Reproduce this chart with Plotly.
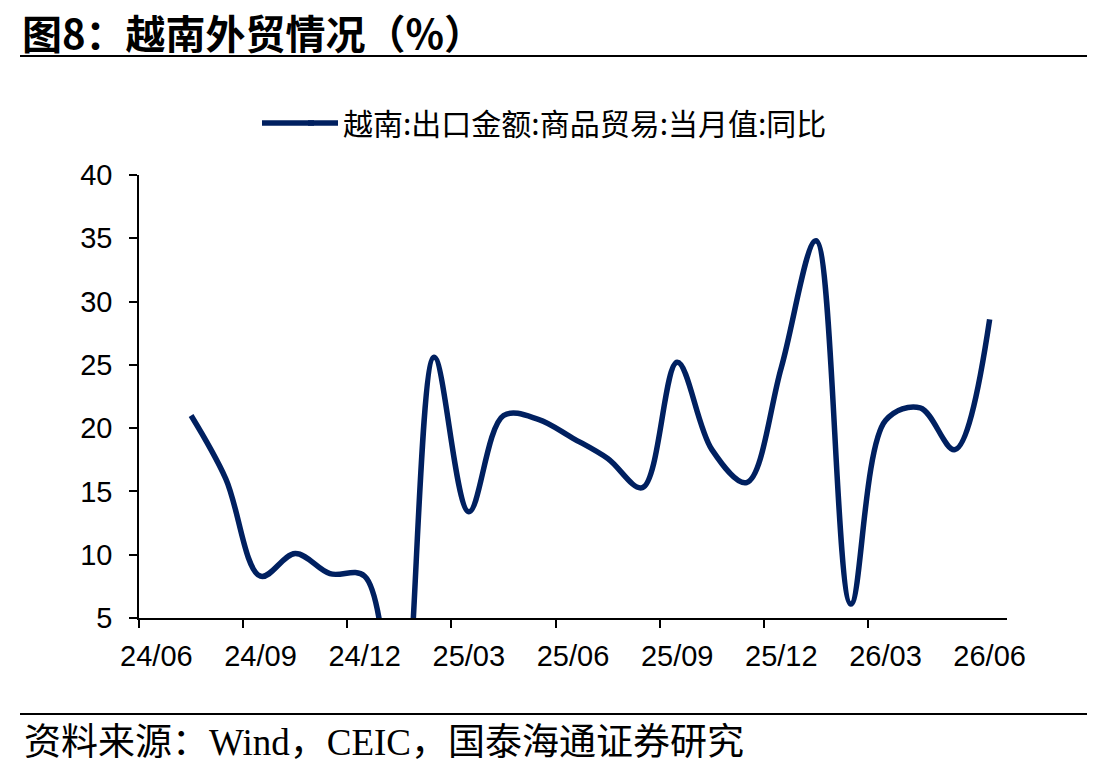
import plotly.graph_objects as go

# ---- data ----
axis_months = ["24/06", "24/07", "24/08", "24/09", "24/10", "24/11", "24/12",
               "25/01", "25/02", "25/03", "25/04", "25/05", "25/06",
               "25/07", "25/08", "25/09", "25/10", "25/11", "25/12",
               "26/01", "26/02", "26/03", "26/04", "26/05", "26/06"]
months = ["24/07", "24/08", "24/09", "24/10", "24/11", "24/12",
          "25/01", "25/02", "25/03", "25/04", "25/05", "25/06",
          "25/07", "25/08", "25/09", "25/10", "25/11", "25/12",
          "26/01", "26/02", "26/03", "26/04", "26/05", "26/06"]
export_yoy = [21.0, 16.0, 8.3, 10.1, 8.5, 8.3,
              -6.0, 25.6, 13.4, 21.0, 20.7, 19.2,
              17.6, 15.3, 25.2, 18.3, 15.7, 24.8,
              34.8, 6.1, 20.6, 21.6, 18.3, 28.6]
tick_labels = ["24/06", "24/09", "24/12", "25/03", "25/06",
               "25/09", "25/12", "26/03", "26/06"]
y_ticks = [5, 10, 15, 20, 25, 30, 35, 40]
series_name = "越南:出口金额:商品贸易:当月值:同比"
title_text = "图8：越南外贸情况（%）"
source_text = "资料来源：Wind，CEIC，国泰海通证券研究"

NAVY = "#002060"
W, H = 1107, 774
L, R, T, B = 139, 100, 175, 156
PW, PH = W - L - R, H - T - B


def px_x(px):
    return (px - L) / PW


def px_y(py):
    return (H - B - py) / PH


x_idx = [axis_months.index(m) for m in months]
tick_idx = [axis_months.index(t) for t in tick_labels]
boundaries = [i - 0.5 for i in tick_idx if i < len(axis_months) - 1]

fig = go.Figure()
fig.add_trace(go.Scatter(
    x=x_idx, y=export_yoy, mode="lines", name=series_name,
    line=dict(color=NAVY, width=5.5, shape="spline", smoothing=1.0),
))

fig.update_layout(
    width=W, height=H, autosize=False,
    margin=dict(l=L, r=R, t=T, b=B, pad=0),
    paper_bgcolor="white", plot_bgcolor="white",
    font=dict(family="Liberation Sans, Arial, Noto Sans CJK SC", color="black"),
    showlegend=True,
    legend=dict(
        orientation="h", x=px_x(303), xanchor="left",
        y=px_y(123), yanchor="middle",
        font=dict(family="Noto Sans CJK SC", size=30, color="black"),
        bgcolor="rgba(0,0,0,0)", borderwidth=0,
    ),
)

fig.update_xaxes(
    range=[-0.5, len(axis_months) - 0.5],
    tickmode="array", tickvals=tick_idx, ticktext=tick_labels,
    ticks="", showgrid=False, zeroline=False,
    showline=True, linecolor="black", linewidth=1.5,
    tickfont=dict(family="Liberation Sans, Arial", size=29, color="black"),
    ticklabelstandoff=11,
    minor=dict(tickmode="array", tickvals=boundaries, ticks="outside",
               ticklen=8, tickwidth=1.5, tickcolor="black", showgrid=False),
)
fig.update_yaxes(
    range=[5, 40], tickmode="array", tickvals=y_ticks,
    ticks="outside", ticklen=8, tickwidth=1.5, tickcolor="black",
    showgrid=False, zeroline=False,
    showline=True, linecolor="black", linewidth=1.5,
    tickfont=dict(family="Liberation Sans, Arial", size=29, color="black"),
    ticklabelstandoff=11,
)

# title as annotation, kept inside the page
fig.add_annotation(
    text=title_text, xref="paper", yref="paper",
    x=px_x(20), xanchor="left", y=px_y(32), yanchor="middle",
    showarrow=False,
    font=dict(family="Noto Sans CJK SC", size=40, color="black", weight="bold"),
)

# header and footer rules
fig.add_shape(type="line", xref="paper", yref="paper",
              x0=px_x(20), x1=px_x(1087), y0=px_y(56), y1=px_y(56),
              line=dict(color="black", width=2))
fig.add_shape(type="line", xref="paper", yref="paper",
              x0=px_x(20), x1=px_x(1087), y0=px_y(714), y1=px_y(714),
              line=dict(color="black", width=2))
# lengthen the legend's line sample to the reference's length
fig.add_shape(type="line", xref="paper", yref="paper",
              x0=px_x(262), x1=px_x(314), y0=px_y(123), y1=px_y(123),
              line=dict(color=NAVY, width=5.5))

fig.add_annotation(
    text=source_text, xref="paper", yref="paper",
    x=px_x(22), xanchor="left", y=px_y(742), yanchor="middle",
    showarrow=False,
    font=dict(family="Liberation Serif, Times New Roman, Noto Sans CJK SC", size=37, color="black"),
)

fig.write_html("out.html")
